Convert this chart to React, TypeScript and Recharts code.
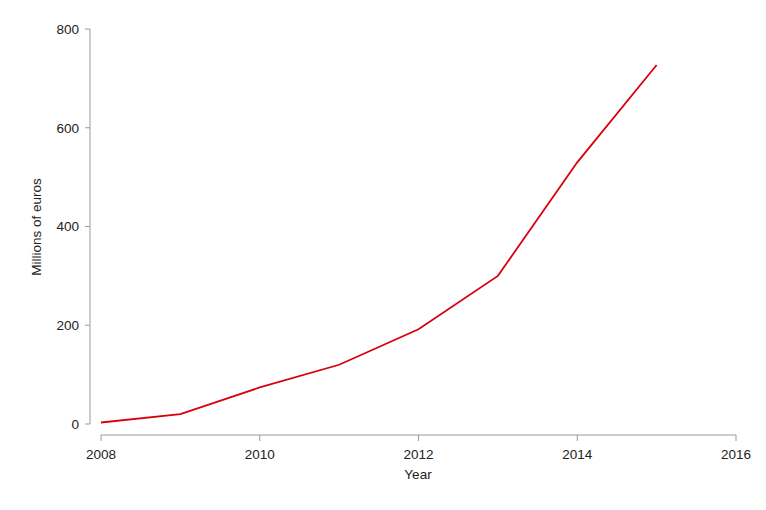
import React from "react";
import { LineChart, Line, XAxis, YAxis, ReferenceLine, Label } from "recharts";

const years = [2008, 2009, 2010, 2011, 2012, 2013, 2014, 2015];
const millions = [3, 20, 74, 120, 192, 300, 530, 727];
const xTicks = [2008, 2010, 2012, 2014, 2016];
const yTicks = [0, 200, 400, 600, 800];

const data = years.map((year, i) => ({ year, value: millions[i] }));

const AXIS = "#9a9a9a";
const FONT = "'Liberation Sans', Arial, sans-serif";
const FS = 13.5;

// axes in the reference are detached from the plot corner, so shift them out
const shiftedX = (p: any) => (
  <line x1={p.x1} x2={p.x2} y1={p.y1 + 11} y2={p.y2 + 11} stroke={AXIS} strokeWidth={1} />
);
const shiftedY = (p: any) => (
  <line x1={p.x1 - 11} x2={p.x2 - 11} y1={p.y1} y2={p.y2} stroke={AXIS} strokeWidth={1} />
);

export default function App() {
  return (
    <div style={{ position: "absolute", left: 0, top: 0, width: 766, height: 510, background: "#fff", fontFamily: FONT }}>
      <LineChart width={766} height={510} data={data} margin={{ top: 29, right: 30, bottom: 30, left: 30 }}>
        <XAxis
          dataKey="year"
          type="number"
          domain={[2008, 2016]}
          ticks={xTicks}
          padding={{ left: 11, right: 0 }}
          axisLine={false}
          tickLine={{ stroke: AXIS }}
          tickSize={6}
          tickMargin={8}
          height={45}
          tick={{ fill: "#222", fontSize: FS, fontFamily: FONT }}
        >
          <Label value="Year" position="center" dx={5} dy={17} fill="#222" fontSize={FS} fontFamily={FONT} />
        </XAxis>
        <YAxis
          type="number"
          domain={[0, 800]}
          ticks={yTicks}
          padding={{ top: 0, bottom: 11 }}
          axisLine={false}
          tickLine={{ stroke: AXIS }}
          tickSize={5}
          tickMargin={6}
          width={60}
          tick={{ fill: "#222", fontSize: FS, fontFamily: FONT }}
        >
          <Label value="Millions of euros" position="center" angle={-90} dx={-24} dy={-5} fill="#222" fontSize={FS} fontFamily={FONT} />
        </YAxis>
        <ReferenceLine segment={[{ x: 2008, y: 0 }, { x: 2016, y: 0 }]} ifOverflow="visible" shape={shiftedX} />
        <ReferenceLine segment={[{ x: 2008, y: 0 }, { x: 2008, y: 800 }]} ifOverflow="visible" shape={shiftedY} />
        <Line
          type="linear"
          dataKey="value"
          stroke="#d9000d"
          strokeWidth={1.8}
          dot={false}
          isAnimationActive={false}
        />
      </LineChart>
    </div>
  );
}
